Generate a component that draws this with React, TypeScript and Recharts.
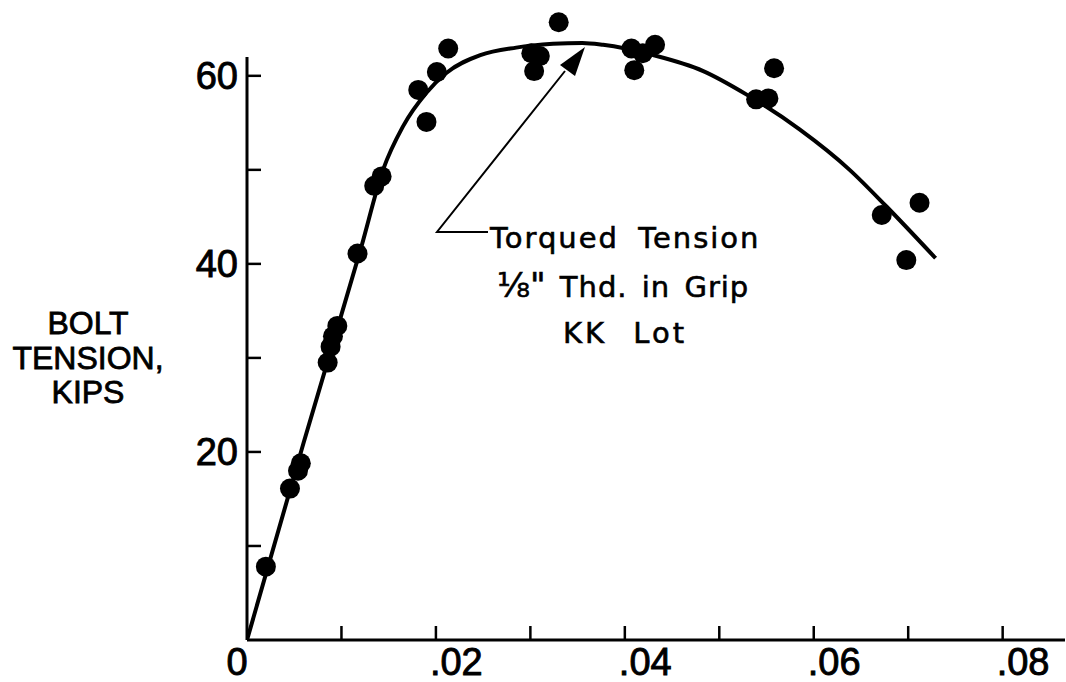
import React from "react";
import {
    ComposedChart,
    Line,
    Scatter,
    XAxis,
    YAxis,
    ReferenceLine,
} from "recharts";

// measured points (x = elongation, y = bolt tension in kips)
const pointX = [
    0.0020, 0.00455, 0.0054, 0.0057, 0.00854, 0.00885, 0.0091, 0.00956, 0.0117,
    0.01347, 0.01425, 0.0190, 0.01813, 0.0201, 0.0213,
    0.0330, 0.0301, 0.0310, 0.0304,
    0.0407, 0.0419, 0.0432, 0.0410,
    0.0558, 0.0539, 0.0552,
    0.0712, 0.0672, 0.0698,
];
const pointY = [
    7.8, 16.1, 18.0, 18.8, 29.5, 31.2, 32.3, 33.4, 41.1,
    48.3, 49.3, 55.1, 58.5, 60.4, 62.9,
    65.7, 62.4, 62.1, 60.5,
    62.9, 62.4, 63.3, 60.6,
    60.8, 57.5, 57.6,
    46.5, 45.2, 40.4,
];

// fitted curve
const curveX = [0, 0.006, 0.0121, 0.0144, 0.0165, 0.019, 0.0211, 0.0247, 0.0285, 0.0324, 0.0355, 0.0377, 0.043, 0.0483, 0.0529, 0.0585, 0.0638, 0.0677, 0.0729];
const curveY = [0, 21.0, 41.8, 50.0, 54.6, 58.2, 60.3, 62.2, 63.0, 63.4, 63.5, 63.3, 62.2, 60.5, 58.0, 54.3, 50.0, 46.1, 40.6];

const xTicks = [0, 0.01, 0.02, 0.03, 0.04, 0.05, 0.06, 0.07, 0.08];
const xTickLabels = ["0", "", ".02", "", ".04", "", ".06", "", ".08"];
const yTicks = [0, 10, 20, 30, 40, 50, 60];
const yTickLabels = ["", "", "20", "", "40", "", "60"];

const points = pointX.map((x, i) => ({ x, y: pointY[i] }));
const curve = curveX.map((x, i) => ({ x, y: curveY[i] }));

const FONT = "'Liberation Sans', Arial, sans-serif";
const LETTER = "'DejaVu Sans', sans-serif";

const XTick = (props: any) => {
    const { x, y, index } = props;
    const label = xTickLabels[index];
    return <g>
        {index > 0 && <line x1={x} y1={y} x2={x} y2={y - 14} stroke="#000" strokeWidth={2.5} />}
        {label && <text
            x={index === 0 ? x - 10 : x - 6}
            y={y + 35}
            textAnchor={index === 0 ? "middle" : "start"}
            fontFamily={FONT}
            fontSize={38}
            fill="#000"
            stroke="#000"
            strokeWidth={0.9}
        >{label}</text>}
    </g>
}

const YTick = (props: any) => {
    const { x, y, index } = props;
    const label = yTickLabels[index];
    return <g>
        {index > 0 && <line x1={x} y1={y} x2={x + 14} y2={y} stroke="#000" strokeWidth={2.5} />}
        {label && <text
            x={x - 9}
            y={y + 13}
            textAnchor="end"
            fontFamily={FONT}
            fontSize={38}
            fill="#000"
            stroke="#000"
            strokeWidth={0.9}
        >{label}</text>}
    </g>
}

const Dot = (props: any) => <circle cx={props.cx} cy={props.cy} r={10} fill="#000" />

const App = () => {
    return <div style={{ position: "absolute", left: 0, top: 0, width: 1066, height: 682, background: "#fff" }}>
        <ComposedChart
            width={1066}
            height={682}
            margin={{
                top: 10,
                right: 1,
                left: 187,
                bottom: 12
            }}
        >
            <XAxis
                type="number"
                dataKey="x"
                domain={[0, 0.0866]}
                ticks={xTicks}
                interval={0}
                allowDataOverflow
                height={30}
                tickSize={0}
                tickMargin={0}
                tickLine={false}
                tick={<XTick />}
                axisLine={{ stroke: "#000", strokeWidth: 3 }}
            />
            <YAxis
                type="number"
                dataKey="y"
                domain={[0, 67]}
                ticks={yTicks}
                interval={0}
                allowDataOverflow
                width={60}
                tickSize={0}
                tickMargin={0}
                tickLine={false}
                tick={<YTick />}
                axisLine={false}
            />
            <ReferenceLine
                segment={[{ x: 0, y: 0 }, { x: 0, y: 62 }]}
                stroke="#000"
                strokeWidth={3}
            />
            <Line
                data={curve}
                dataKey="y"
                type="monotone"
                stroke="#000"
                strokeWidth={4}
                dot={false}
                activeDot={false}
                isAnimationActive={false}
            />
            <Scatter
                data={points}
                dataKey="y"
                fill="#000"
                shape={<Dot />}
                isAnimationActive={false}
            />
        </ComposedChart>

        {/* axis title and annotation */}
        <svg width={1066} height={682} style={{ position: "absolute", left: 0, top: 0, pointerEvents: "none" }}>
            <g fontFamily={FONT} fontSize={32} fill="#000" stroke="#000" strokeWidth={0.8} textAnchor="middle">
                <text x={88} y={334}>BOLT</text>
                <text x={88} y={369}>TENSION,</text>
                <text x={88} y={403}>KIPS</text>
            </g>
            <polyline points="488,232 437,232 565,71" fill="none" stroke="#000" strokeWidth={2} />
            <polygon points="585,47 575,76 560,65" fill="#000" />
            <g fontFamily={LETTER} fill="#000" stroke="#000" strokeWidth={0.6}>
                <text x={490} y={248} fontSize={29} letterSpacing={2} wordSpacing={8}>Torqued Tension</text>
                <text x={497} y={297} fontSize={29} letterSpacing={1} wordSpacing={4}>
                    <tspan fontSize={34} letterSpacing={0}>⅛"</tspan> Thd. in Grip
                </text>
                <text x={563} y={343} fontSize={29} letterSpacing={3} wordSpacing={14}>KK Lot</text>
            </g>
        </svg>
    </div>
}

export default App
